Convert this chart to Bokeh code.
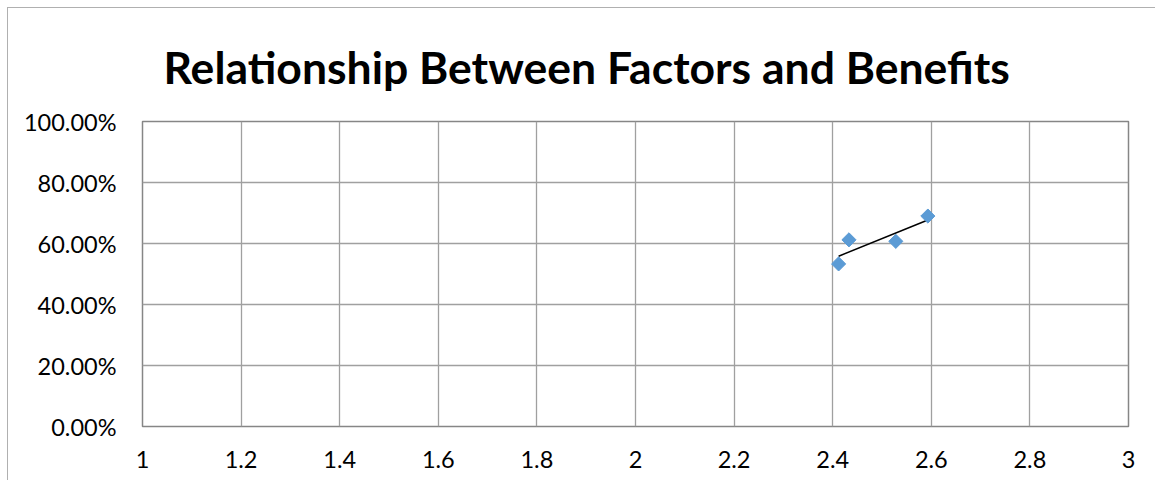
import numpy as np
from bokeh.plotting import figure
from bokeh.models import FixedTicker, NumeralTickFormatter, Range1d, Title
from bokeh.embed import file_html
from bokeh.resources import INLINE

title_text = "Relationship Between Factors and Benefits"
factor_scores = [2.412, 2.433, 2.528, 2.593]
benefit_shares = [0.533, 0.612, 0.607, 0.690]
x_ticks = [1, 1.2, 1.4, 1.6, 1.8, 2, 2.2, 2.4, 2.6, 2.8, 3]
x_labels = ["1", "1.2", "1.4", "1.6", "1.8", "2", "2.2", "2.4", "2.6", "2.8", "3"]
y_ticks = [0, 0.2, 0.4, 0.6, 0.8, 1.0]

FONT = "Lato"

p = figure(width=1148, height=473, output_backend="svg", toolbar_location=None,
           x_range=Range1d(1, 3), y_range=Range1d(0, 1),
           min_border_left=134, min_border_right=28, min_border_top=113, min_border_bottom=55)
p.styles = {"margin-left": "7px", "margin-top": "7px",
            "border-left": "1px solid #B0B0B0", "border-top": "1px solid #B0B0B0"}

p.outline_line_color = "#868686"
p.outline_line_width = 1.5
p.background_fill_color = "white"
p.border_fill_color = "white"

p.xaxis.ticker = FixedTicker(ticks=x_ticks)
p.xaxis.major_label_overrides = {t: l for t, l in zip(x_ticks, x_labels)}
p.yaxis.ticker = FixedTicker(ticks=y_ticks)
p.yaxis.formatter = NumeralTickFormatter(format="0.00%")

for ax in (p.xaxis, p.yaxis):
    ax.axis_line_color = None
    ax.major_tick_line_color = None
    ax.minor_tick_line_color = None
    ax.major_label_text_font = FONT
    ax.major_label_text_font_size = "23.5px"
    ax.major_label_text_color = "black"
p.xaxis.major_label_standoff = 18
p.yaxis.major_label_standoff = 20

p.xgrid.ticker = FixedTicker(ticks=x_ticks)
p.ygrid.ticker = FixedTicker(ticks=y_ticks)
p.xgrid.grid_line_color = "#A0A0A0"
p.ygrid.grid_line_color = "#A0A0A0"
p.xgrid.grid_line_width = 1.3
p.ygrid.grid_line_width = 1.3

# linear trendline
m, b = np.polyfit(factor_scores, benefit_shares, 1)
tx = [min(factor_scores), max(factor_scores)]
ty = [m * v + b for v in tx]
p.line(tx, ty, line_color="black", line_width=1.5)

p.scatter(factor_scores, benefit_shares, marker="square", size=10, angle=np.pi / 4,
          fill_color="#5B9BD5", line_color="#5B9BD5")

title = Title(text=title_text, align="left", offset=21, standoff=58,
              text_font=FONT, text_font_style="bold", text_font_size="44.5px",
              text_color="black")
p.add_layout(title, "above")

open("out.html", "w").write(file_html(p, INLINE))
